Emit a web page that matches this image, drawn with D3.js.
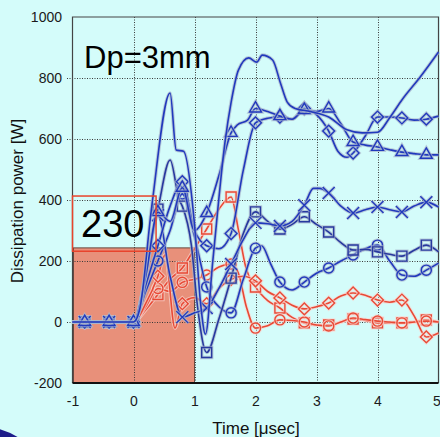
<!DOCTYPE html>
<html lang="en">
<head>
    <meta charset="UTF-8">
    <title>Dissipation power Dp=3mm</title>
    <style>
        html, body { margin: 0; padding: 0; background: #d4fcfa; }
        svg { display: block; font-family: "Liberation Sans", Arial, sans-serif; }
        .axis path { display: none; }
        .axis line { display: none; }
        .axis text { font-size: 14px; fill: #1a1a1a; }
    </style>
</head>
<body>

    <script src="https://d3js.org/d3.v7.min.js"></script>
    <script>

        // tick values
        var xTicks = [-1, 0, 1, 2, 3, 4, 5];
        var yTicks = [-200, 0, 200, 400, 600, 800, 1000];
        // markers every 0.4 usec
        var markerTimes = [-0.8, -0.4, 0, 0.4, 0.8, 1.2, 1.6, 2.0, 2.4, 2.8, 3.2, 3.6, 4.0, 4.4, 4.8];

        // blue, no marker
        var tNone = [-1, -0.8, -0.4, 0, 0.1, 0.3, 0.6, 0.7, 0.82, 1.0, 1.1, 1.18, 1.3, 1.5, 1.6, 1.72, 1.89, 2.02, 2.11, 2.28, 2.41, 2.52, 2.65, 2.9, 3.2, 3.5, 3.75, 4.0, 4.2, 4.4, 4.7, 5.0];
        var vNone = [0, 0, 0, 0, 40, 380, 751, 564, 560, 320, 60, -40, 200, 590, 720, 826, 866, 852, 875, 859, 783, 721, 700, 690, 672, 630, 620, 622, 670, 728, 803, 885];

        // blue, triangle
        var tTri = [-1, -0.8, -0.4, 0, 0.2, 0.4, 0.6, 0.8, 1.0, 1.2, 1.4, 1.6, 1.7, 1.87, 2.0, 2.2, 2.4, 2.6, 2.8, 3.0, 3.2, 3.4, 3.6, 3.8, 4.0, 4.2, 4.4, 4.6, 4.8, 5.0];
        var vTri = [0, 0, 0, 0, 150, 360, 330, 440, 300, 357, 480, 620, 646, 662, 700, 690, 675, 665, 695, 690, 700, 650, 590, 580, 574, 565, 557, 552, 548, 548];

        // blue, diamond
        var tDia = [-1, -0.8, -0.4, 0, 0.2, 0.4, 0.6, 0.8, 1.0, 1.2, 1.4, 1.6, 1.8, 2.0, 2.2, 2.4, 2.6, 2.8, 3.0, 3.2, 3.35, 3.5, 3.6, 3.8, 4.0, 4.2, 4.4, 4.6, 4.8, 5.0];
        var vDia = [0, 0, 0, 0, 120, 250, 380, 460, 300, 250, 240, 290, 498, 653, 668, 672, 665, 700, 680, 626, 560, 540, 554, 610, 672, 672, 669, 662, 665, 675];

        // blue, cross
        var tX = [-1, -0.8, -0.4, 0, 0.2, 0.4, 0.6, 0.8, 1.0, 1.2, 1.4, 1.6, 1.8, 2.0, 2.2, 2.4, 2.6, 2.8, 2.95, 3.05, 3.2, 3.4, 3.6, 3.8, 4.0, 4.2, 4.4, 4.6, 4.8, 5.0];
        var vX = [0, 0, 0, 0, 150, 350, 150, 16, 30, 46, 110, 190, 270, 325, 322, 315, 330, 383, 438, 438, 423, 380, 357, 368, 377, 368, 361, 380, 393, 377];

        // blue, square
        var tSq = [-1, -0.8, -0.4, 0, 0.3, 0.4, 0.6, 0.75, 0.8, 0.95, 1.05, 1.2, 1.4, 1.6, 1.8, 2.0, 2.2, 2.4, 2.6, 2.8, 3.0, 3.2, 3.4, 3.6, 3.8, 4.0, 4.2, 4.4, 4.6, 4.8, 5.0];
        var vSq = [0, 0, 0, 0, 280, 370, 531, 400, 380, 250, 50, -100, 10, 144, 290, 361, 330, 305, 320, 345, 320, 295, 260, 236, 238, 230, 222, 216, 235, 252, 230];

        // blue, circle
        var tCir = [-1, -0.8, -0.4, 0, 0.2, 0.4, 0.6, 0.8, 1.0, 1.2, 1.4, 1.6, 1.8, 2.0, 2.1, 2.25, 2.4, 2.6, 2.8, 3.0, 3.2, 3.4, 3.6, 3.8, 4.0, 4.2, 4.4, 4.6, 4.8, 5.0];
        var vCir = [0, 0, 0, 0, 100, 200, 300, 420, 280, 115, 50, 30, 140, 242, 250, 190, 131, 105, 131, 160, 177, 200, 220, 240, 252, 200, 154, 150, 170, 193];

        // red, square
        var tRSq = [-1, -0.8, -0.4, 0, 0.2, 0.4, 0.6, 0.8, 1.0, 1.2, 1.4, 1.6, 1.72, 1.84, 2.0, 2.2, 2.4, 2.6, 2.8, 3.0, 3.2, 3.4, 3.6, 3.8, 4.0, 4.2, 4.4, 4.6, 4.8, 5.0];
        var vRSq = [0, 0, 0, 0, 40, 90, 140, 177, 240, 305, 370, 410, 302, 180, 115, 70, 46, 15, -3, -10, -10, 0, 10, 5, -3, -3, -3, 0, 7, 0];

        // red, circle
        var tRCir = [-1, -0.8, -0.4, 0, 0.2, 0.4, 0.6, 0.8, 1.0, 1.2, 1.4, 1.6, 1.72, 1.85, 2.0, 2.2, 2.4, 2.6, 2.8, 3.0, 3.2, 3.4, 3.6, 3.8, 4.0, 4.2, 4.4, 4.6, 4.8, 5.0];
        var vRCir = [0, 0, 0, 0, 50, 110, 100, 130, 140, 154, 180, 190, 160, 50, -20, -12, 7, 5, 0, -10, -13, 0, 13, 8, 3, 0, -3, 0, 3, 0];

        // red, diamond
        var tRDia = [-1, -0.8, -0.4, 0, 0.2, 0.4, 0.52, 0.68, 0.8, 1.0, 1.2, 1.4, 1.6, 1.8, 2.0, 2.2, 2.4, 2.6, 2.8, 3.0, 3.2, 3.4, 3.6, 3.8, 4.0, 4.2, 4.4, 4.6, 4.8, 5.0];
        var vRDia = [0, 0, 0, 0, 60, 150, 220, -20, 60, 80, 60, 110, 140, 150, 135, 100, 79, 55, 43, 50, 62, 85, 95, 88, 72, 65, 72, 20, -49, -36];

        // highlighted areas
        var fillBox = { t0: -1, t1: 1, v0: -200, v1: 243 };
        var outlineBox = { t0: -1, t1: 0.37, v0: 232, v1: 413 };

        var width = 440;
        var height = 437;

        var x = d3.scaleLinear().domain([-1, 5]).range([72.5, 438.5]);
        var y = d3.scaleLinear().domain([-200, 1000]).range([383, 17]);

        var blue = "#2139bd";
        var red = "#e84a36";

        var series = [
            { t: tRSq, v: vRSq, color: red, halo: "#f8d6d0", mark: "square" },
            { t: tRCir, v: vRCir, color: red, halo: "#f8d6d0", mark: "circle" },
            { t: tRDia, v: vRDia, color: red, halo: "#f8d6d0", mark: "diamond" },
            { t: tCir, v: vCir, color: blue, halo: "#aab6cc", mark: "circle" },
            { t: tSq, v: vSq, color: "#27399f", halo: "#aab6cc", mark: "square" },
            { t: tX, v: vX, color: blue, halo: "#aab6cc", mark: "x" },
            { t: tDia, v: vDia, color: blue, halo: "#aab6cc", mark: "diamond" },
            { t: tTri, v: vTri, color: blue, halo: "#aab6cc", mark: "triangle" },
            { t: tNone, v: vNone, color: blue, halo: "#aab6cc", mark: null }
        ];

        var svg = d3.select("body").append("svg")
            .attr("width", width)
            .attr("height", height);

        // dark shape in the corner
        svg.append("ellipse")
            .attr("cx", -30).attr("cy", 470)
            .attr("rx", 70).attr("ry", 45)
            .attr("fill", "#1d1c8a");

        // salmon box
        svg.append("rect")
            .attr("x", x(fillBox.t0) + 1)
            .attr("y", y(fillBox.v1))
            .attr("width", x(fillBox.t1) - x(fillBox.t0) - 1)
            .attr("height", y(fillBox.v0) - y(fillBox.v1))
            .attr("fill", "#e8907a")
            .attr("stroke", "#6a4a40")
            .attr("stroke-width", 1);

        // grid
        var grid = svg.append("g")
            .attr("stroke", "#3a3a3a")
            .attr("stroke-width", 1)
            .attr("stroke-dasharray", "1,1.5");

        grid.selectAll(".h")
            .data(yTicks.filter(function(d) { return d > -200 && d < 1000; }))
            .enter().append("line")
            .attr("x1", 67).attr("x2", x(5))
            .attr("y1", function(d) { return Math.round(y(d)) + 0.5; })
            .attr("y2", function(d) { return Math.round(y(d)) + 0.5; });

        grid.selectAll(".v")
            .data(xTicks.filter(function(d) { return d > -1 && d < 5; }))
            .enter().append("line")
            .attr("x1", function(d) { return Math.round(x(d)) + 0.5; })
            .attr("x2", function(d) { return Math.round(x(d)) + 0.5; })
            .attr("y1", y(1000)).attr("y2", y(-200));

        // frame
        svg.append("path")
            .attr("d", "M" + x(-1) + "," + y(-200) + "V" + y(1000) + "H" + x(5) + "V" + y(-200))
            .attr("fill", "none")
            .attr("stroke", "#444")
            .attr("stroke-width", 1.2);
        svg.append("line")
            .attr("x1", x(-1)).attr("x2", x(5))
            .attr("y1", y(-200)).attr("y2", y(-200))
            .attr("stroke", "#111")
            .attr("stroke-width", 2);

        // curves
        var line = d3.line()
            .x(function(d) { return x(d[0]); })
            .y(function(d) { return y(d[1]); })
            .curve(d3.curveMonotoneX);

        function markerPath(kind) {
            if (kind === "square") return d3.symbol(d3.symbolSquare, 100)();
            if (kind === "circle") return d3.symbol(d3.symbolCircle, 80)();
            if (kind === "triangle") return d3.symbol(d3.symbolTriangle, 62)();
            if (kind === "diamond") return d3.symbol(d3.symbolSquare, 70)();
            return "M-6,-6L6,6M-6,6L6,-6";
        }

        series.forEach(function(s) {
            var pts = s.t.map(function(t, i) { return [t, s.v[i]]; });
            var g = svg.append("g");

            g.append("path")
                .attr("d", line(pts))
                .attr("fill", "none")
                .attr("stroke", s.halo)
                .attr("stroke-width", 3.6)
                .attr("stroke-opacity", 0.7);
            g.append("path")
                .attr("d", line(pts))
                .attr("fill", "none")
                .attr("stroke", s.color)
                .attr("stroke-width", 1.6);

            if (!s.mark) return;
            var marks = markerTimes.map(function(mt) {
                var i = s.t.findIndex(function(t) { return Math.abs(t - mt) < 1e-9; });
                return [mt, s.v[i]];
            });
            var rot = s.mark === "diamond" ? " rotate(45)" : "";
            [[s.halo, 3.4, 0.7], [s.color, 1.4, 1]].forEach(function(st) {
                g.selectAll(null)
                    .data(marks)
                    .enter().append("path")
                    .attr("d", markerPath(s.mark))
                    .attr("transform", function(d) { return "translate(" + x(d[0]) + "," + y(d[1]) + ")" + rot; })
                    .attr("fill", "none")
                    .attr("stroke", st[0])
                    .attr("stroke-width", st[1])
                    .attr("stroke-opacity", st[2]);
            });
        });

        // red outline box with its label
        svg.append("rect")
            .attr("x", x(outlineBox.t0))
            .attr("y", y(outlineBox.v1))
            .attr("width", x(outlineBox.t1) - x(outlineBox.t0))
            .attr("height", y(outlineBox.v0) - y(outlineBox.v1))
            .attr("fill", "none")
            .attr("stroke", "#e8442c")
            .attr("stroke-width", 1.5);

        svg.append("text")
            .attr("x", 81).attr("y", 237)
            .attr("font-size", 38)
            .attr("fill", "#000")
            .text("230");

        svg.append("text")
            .attr("x", 84).attr("y", 68)
            .attr("font-size", 31)
            .attr("fill", "#000")
            .text("Dp=3mm");

        // axes
        var plain = function(d) { return String(d); };

        svg.append("g")
            .attr("class", "axis")
            .attr("transform", "translate(" + (x(-1) - 0.5) + ",0)")
            .call(d3.axisLeft(y).tickValues(yTicks).tickSize(0).tickPadding(10).tickFormat(plain));

        var xAxis = svg.append("g")
            .attr("class", "axis")
            .attr("transform", "translate(0," + y(-200) + ")")
            .call(d3.axisBottom(x).tickValues(xTicks).tickSize(0).tickPadding(13).tickFormat(plain));
        // last label sits at the window edge; nudge it in a little
        xAxis.selectAll(".tick text")
            .filter(function(d) { return d === 5; })
            .attr("dx", -2);

        svg.append("text")
            .attr("x", 256).attr("y", 434)
            .attr("text-anchor", "middle")
            .attr("font-size", 17)
            .attr("fill", "#111")
            .text("Time [\u03bcsec]");

        svg.append("text")
            .attr("transform", "translate(23,201) rotate(-90)")
            .attr("text-anchor", "middle")
            .attr("font-size", 17)
            .attr("fill", "#111")
            .text("Dissipation power [W]");

    </script>
</body>
</html>
